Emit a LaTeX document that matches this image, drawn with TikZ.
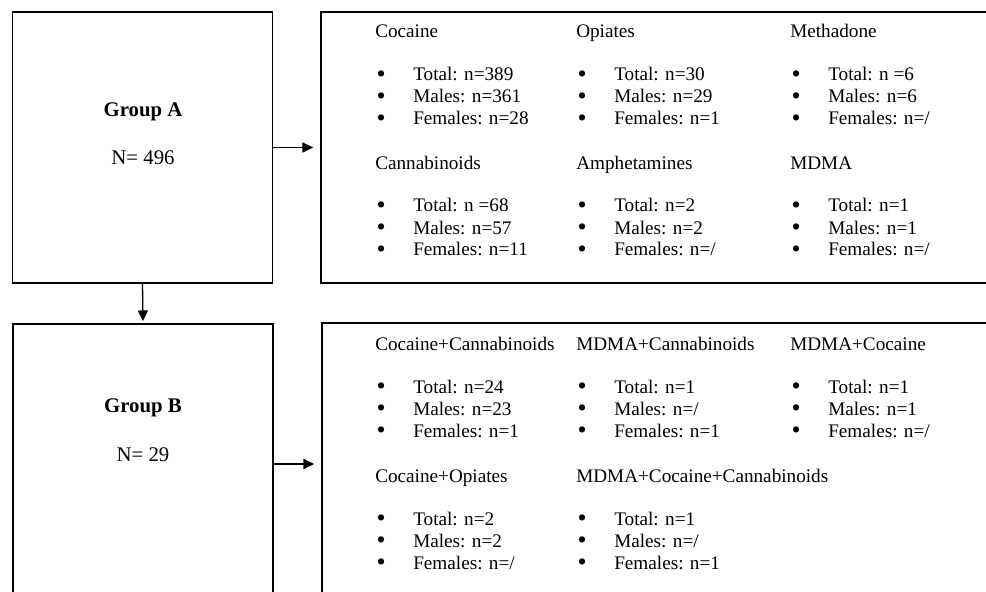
\documentclass[tikz,border=0pt]{standalone}
\usepackage{graphicx}
\usepackage{fontspec}
\setmainfont{Liberation Serif}
\usetikzlibrary{arrows.meta,positioning}

% larger bullet, as in the reference
\newcommand{\bigbullet}{\smash{\raisebox{-0.9pt}{\scalebox{1.35}{\textbullet}}}}
% one substance column: heading and three bullet lines
\newcommand{\substlist}[4]{%
  \begin{tabular}[t]{@{\hspace{1pt}}p{27.5pt}@{}l@{}}
    \multicolumn{2}{@{}l@{}}{#1}\\[15.75pt]
    \bigbullet & Total: #2\\
    \bigbullet & Males: #3\\
    \bigbullet & Females: #4
  \end{tabular}}

\tikzset{
  box/.style={draw, line width=1.3pt, inner sep=0pt},
  grouplbl/.style={font=\fontsize{15.6}{18}\selectfont\bfseries},
  groupnum/.style={font=\fontsize{15.6}{18}\selectfont},
  subst/.style={anchor=base west, inner sep=0pt, font=\fontsize{14.4}{16.5}\selectfont},
  arr/.style={line width=1pt, -{Triangle[length=8pt,width=7.5pt]}}
}

\begin{document}
\begin{tikzpicture}[x=0.75pt, y=-0.75pt]
        \useasboundingbox (0,0) rectangle (986,592);
        \clip (0,0) rectangle (986,592);
        % Group boxes
        \node[box, minimum width=195pt, minimum height=203.25pt] (groupA) at (142.5,147.5) {};
        \node[box, minimum width=195pt, minimum height=210pt] (groupB) at (143,464) {};
        \node[grouplbl] (lblA) at (143,112) {Group A};
        \node[groupnum] (numA) at (143,158) {N= 496};
        \node[grouplbl] (lblB) at (143,408) {Group B};
        \node[groupnum] (numB) at (143,455) {N= 29};
        % Substance boxes (run past the right and lower edge)
        \node[box, minimum width=509.25pt, minimum height=203.25pt] (listA) at (660.5,147.5) {};
        \node[box, minimum width=508.5pt, minimum height=211.5pt] (listB) at (661,464) {};
        % Single substances
        \node[subst] (coc) at (375,38) {\substlist{Cocaine}{n=389}{n=361}{n=28}};
        \node[subst] (opi) at (576,38) {\substlist{Opiates}{n=30}{n=29}{n=1}};
        \node[subst] (meth) at (790,38) {\substlist{Methadone}{n =6}{n=6}{n=/}};
        \node[subst] (cann) at (375,169) {\substlist{Cannabinoids}{n =68}{n=57}{n=11}};
        \node[subst] (amph) at (576,169) {\substlist{Amphetamines}{n=2}{n=2}{n=/}};
        \node[subst] (mdma) at (790,169) {\substlist{MDMA}{n=1}{n=1}{n=/}};
        % Combinations
        \node[subst] (cocCann) at (375,350) {\substlist{Cocaine+Cannabinoids}{n=24}{n=23}{n=1}};
        \node[subst] (mdmaCann) at (576,350) {\substlist{MDMA+Cannabinoids}{n=1}{n=/}{n=1}};
        \node[subst] (mdmaCoc) at (790,350) {\substlist{MDMA+Cocaine}{n=1}{n=1}{n=/}};
        \node[subst] (cocOpi) at (375,482) {\substlist{Cocaine+Opiates}{n=2}{n=2}{n=/}};
        \node[subst] (mdmaCocCann) at (576,482) {\substlist{MDMA+Cocaine+Cannabinoids}{n=1}{n=/}{n=1}};
        % Arrows
        \draw[arr, shorten >=5.25pt] (groupA.east) -- (listA.west);
        \draw[arr, shorten >=5.25pt] (groupB.east) -- (listB.west);
        \draw[arr, shorten >=1.5pt] (groupA.south) -- (groupB.north);
      \end{tikzpicture}
\end{document}
